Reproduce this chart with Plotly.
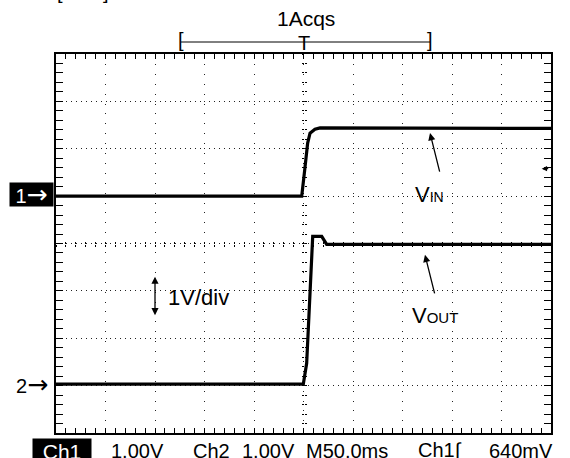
import plotly.graph_objects as go

# scope capture: 50 ms/div horizontally, 1 V/div vertically, trigger at centre
ch1_t_ms = [-250, -1.8, 1.2, 4.2, 6.6, 11.6, 16.7, 250]
ch1_v = [1.00, 1.00, 1.55, 2.12, 2.33, 2.41, 2.44, 2.43]

ch2_t_ms = [-250, -0.2, 3.2, 4.8, 7.3, 8.3, 9.3, 18.4, 23.4, 250]
ch2_v = [-2.97, -2.97, -2.53, -1.89, -0.91, -0.20, 0.15, 0.15, -0.02, -0.02]

ch1_ground = 1.0
ch2_ground = -3.0
trig_level = 1.58

status_labels = ["Ch1", "1.00V", "Ch2", "1.00V", "M50.0ms", "Ch1\u222b", "640mV"]

FONT = "Liberation Sans, Arial, sans-serif"
W, H = 570, 458
L, R, T, B = 56, 19, 54, 25


def px_x(px):
    return (px - L) / (W - L - R)


def px_y(py):
    return (H - B - py) / (H - T - B)


fig = go.Figure()
fig.add_trace(go.Scatter(x=ch1_t_ms, y=ch1_v, mode="lines",
                         line=dict(color="black", width=3.2), hoverinfo="skip"))
fig.add_trace(go.Scatter(x=ch2_t_ms, y=ch2_v, mode="lines",
                         line=dict(color="black", width=3.2), hoverinfo="skip"))
# empty traces so the centre-crosshair tick axes get drawn
fig.add_trace(go.Scatter(x=[None], y=[None], xaxis="x3", yaxis="y3", hoverinfo="skip"))
fig.add_trace(go.Scatter(x=[None], y=[None], xaxis="x4", yaxis="y4", hoverinfo="skip"))

xr = [-250, 250]
yr = [-4, 4]
common = dict(showticklabels=False, zeroline=False, fixedrange=True)

fig.update_layout(
    width=W, height=H,
    margin=dict(l=L, r=R, t=T, b=B, autoexpand=False),
    paper_bgcolor="white", plot_bgcolor="white",
    showlegend=False,
    font=dict(family=FONT, color="black"),
    xaxis=dict(range=xr, dtick=50, tick0=0, showgrid=True, gridcolor="#222",
               gridwidth=1, griddash="1px,8.9px", showline=True, linecolor="black",
               linewidth=2, mirror="ticks", ticks="inside", ticklen=5, tickcolor="black",
               tickwidth=1, minor=dict(dtick=10, ticks="inside", ticklen=5,
                                       tickcolor="black", tickwidth=1, showgrid=False),
               **common),
    yaxis=dict(range=yr, dtick=1, tick0=0, showgrid=True, gridcolor="#222",
               gridwidth=1, griddash="1px,3.95px", showline=True, linecolor="black",
               linewidth=2, mirror="ticks", ticks="inside", ticklen=7, tickcolor="black",
               tickwidth=1, minor=dict(dtick=0.2, ticks="inside", ticklen=7,
                                       tickcolor="black", tickwidth=1, showgrid=False),
               **common),
    xaxis3=dict(range=xr, overlaying="x", anchor="free", position=0.5, dtick=10,
                ticks="outside", ticklen=2, tickcolor="black", tickwidth=1,
                showgrid=False, showline=False, **common),
    xaxis4=dict(range=xr, overlaying="x", anchor="free", position=0.5, dtick=10,
                ticks="inside", ticklen=2, tickcolor="black", tickwidth=1,
                showgrid=False, showline=False, **common),
    yaxis3=dict(range=yr, overlaying="y", anchor="free", position=0.5, dtick=0.2,
                ticks="outside", ticklen=2, tickcolor="black", tickwidth=1,
                showgrid=False, showline=False, **common),
    yaxis4=dict(range=yr, overlaying="y", anchor="free", position=0.5, dtick=0.2,
                ticks="inside", ticklen=2, tickcolor="black", tickwidth=1,
                showgrid=False, showline=False, **common),
)

ARROW = "<span style='font-family:DejaVu Sans;font-size:25px'>\u2192</span>"

ann = []
# acquisition header
ann.append(dict(text="1Acqs", xref="paper", yref="paper", x=px_x(306), y=px_y(18.5),
                showarrow=False, font=dict(size=21), xanchor="center", yanchor="middle"))
ann.append(dict(text="[", xref="paper", yref="paper", x=px_x(181), y=px_y(40),
                showarrow=False, font=dict(size=20), xanchor="center", yanchor="middle"))
ann.append(dict(text="]", xref="paper", yref="paper", x=px_x(430), y=px_y(40),
                showarrow=False, font=dict(size=20), xanchor="center", yanchor="middle"))
ann.append(dict(text="T", xref="paper", yref="paper", x=px_x(303.5), y=px_y(43),
                showarrow=False, font=dict(size=20), xanchor="center", yanchor="middle"))
# clipped status text at the very top
ann.append(dict(text="[", xref="paper", yref="paper", x=px_x(60), y=px_y(-8),
                showarrow=False, font=dict(size=20), xanchor="center", yanchor="middle"))
ann.append(dict(text="]", xref="paper", yref="paper", x=px_x(106), y=px_y(-8),
                showarrow=False, font=dict(size=20), xanchor="center", yanchor="middle"))

# channel markers
ann.append(dict(text="1" + ARROW, xref="paper", yref="y", x=px_x(54), y=ch1_ground + 0.03,
                showarrow=False, font=dict(size=20, color="white"), bgcolor="black",
                width=43, height=23, borderpad=0, xanchor="right", yanchor="middle"))
ann.append(dict(text="2" + ARROW, xref="paper", yref="y", x=px_x(50), y=ch2_ground + 0.02,
                showarrow=False, font=dict(size=20), xanchor="right", yanchor="middle"))

# signal labels with arrows
ann.append(dict(text="V<span style='font-size:14px'>IN</span>", x=127.1, y=1.04,
                showarrow=False, font=dict(size=22)))
ann.append(dict(text="", x=127.8, y=2.33, ax=10, ay=40, showarrow=True,
                arrowhead=2, arrowsize=1.1, arrowwidth=1.3, arrowcolor="black"))
ann.append(dict(text="V<span style='font-size:15px'>OUT</span>", x=132.8, y=-1.52,
                showarrow=False, font=dict(size=22)))
ann.append(dict(text="", x=122.7, y=-0.24, ax=10, ay=40, showarrow=True,
                arrowhead=2, arrowsize=1.1, arrowwidth=1.3, arrowcolor="black"))

# 1V/div scale marker
ann.append(dict(text="", x=-150, y=-0.70, ax=0, ay=40, showarrow=True,
                arrowhead=2, startarrowhead=2, arrowside="end+start", arrowsize=1.1,
                arrowwidth=1.3, arrowcolor="black"))
ann.append(dict(text="1V/div", x=-106, y=-1.14, showarrow=False, font=dict(size=22)))

# trigger level marker on right edge
ann.append(dict(text="", x=240.6, y=trig_level, ax=8, ay=0, showarrow=True,
                arrowhead=2, arrowsize=0.9, arrowwidth=1.2, arrowcolor="black"))

# status line at the bottom (left edges in pixels)
status_left = [32, 109, 191, 240, 304, 416, 487]
for i, (lab, lx) in enumerate(zip(status_labels, status_left)):
    if i == 0:
        ann.append(dict(text=lab, xref="paper", yref="paper", x=px_x(lx), y=px_y(450.5),
                        showarrow=False, font=dict(size=21, color="white"), bgcolor="black",
                        width=58, height=24, borderpad=0, xanchor="left", yanchor="middle"))
    else:
        ann.append(dict(text=lab, xref="paper", yref="paper", x=px_x(lx), y=px_y(450.5),
                        showarrow=False, font=dict(size=20), xanchor="left",
                        yanchor="middle"))

fig.update_layout(annotations=ann)

# bracket line of the record window
fig.add_shape(type="line", xref="paper", yref="paper", x0=px_x(181), x1=px_x(430),
              y0=px_y(42), y1=px_y(42), line=dict(color="black", width=1))

fig.write_html("out.html", config={"displayModeBar": False},
               post_script="document.body.style.margin='0px';"
                           "document.body.style.overflow='hidden';")
